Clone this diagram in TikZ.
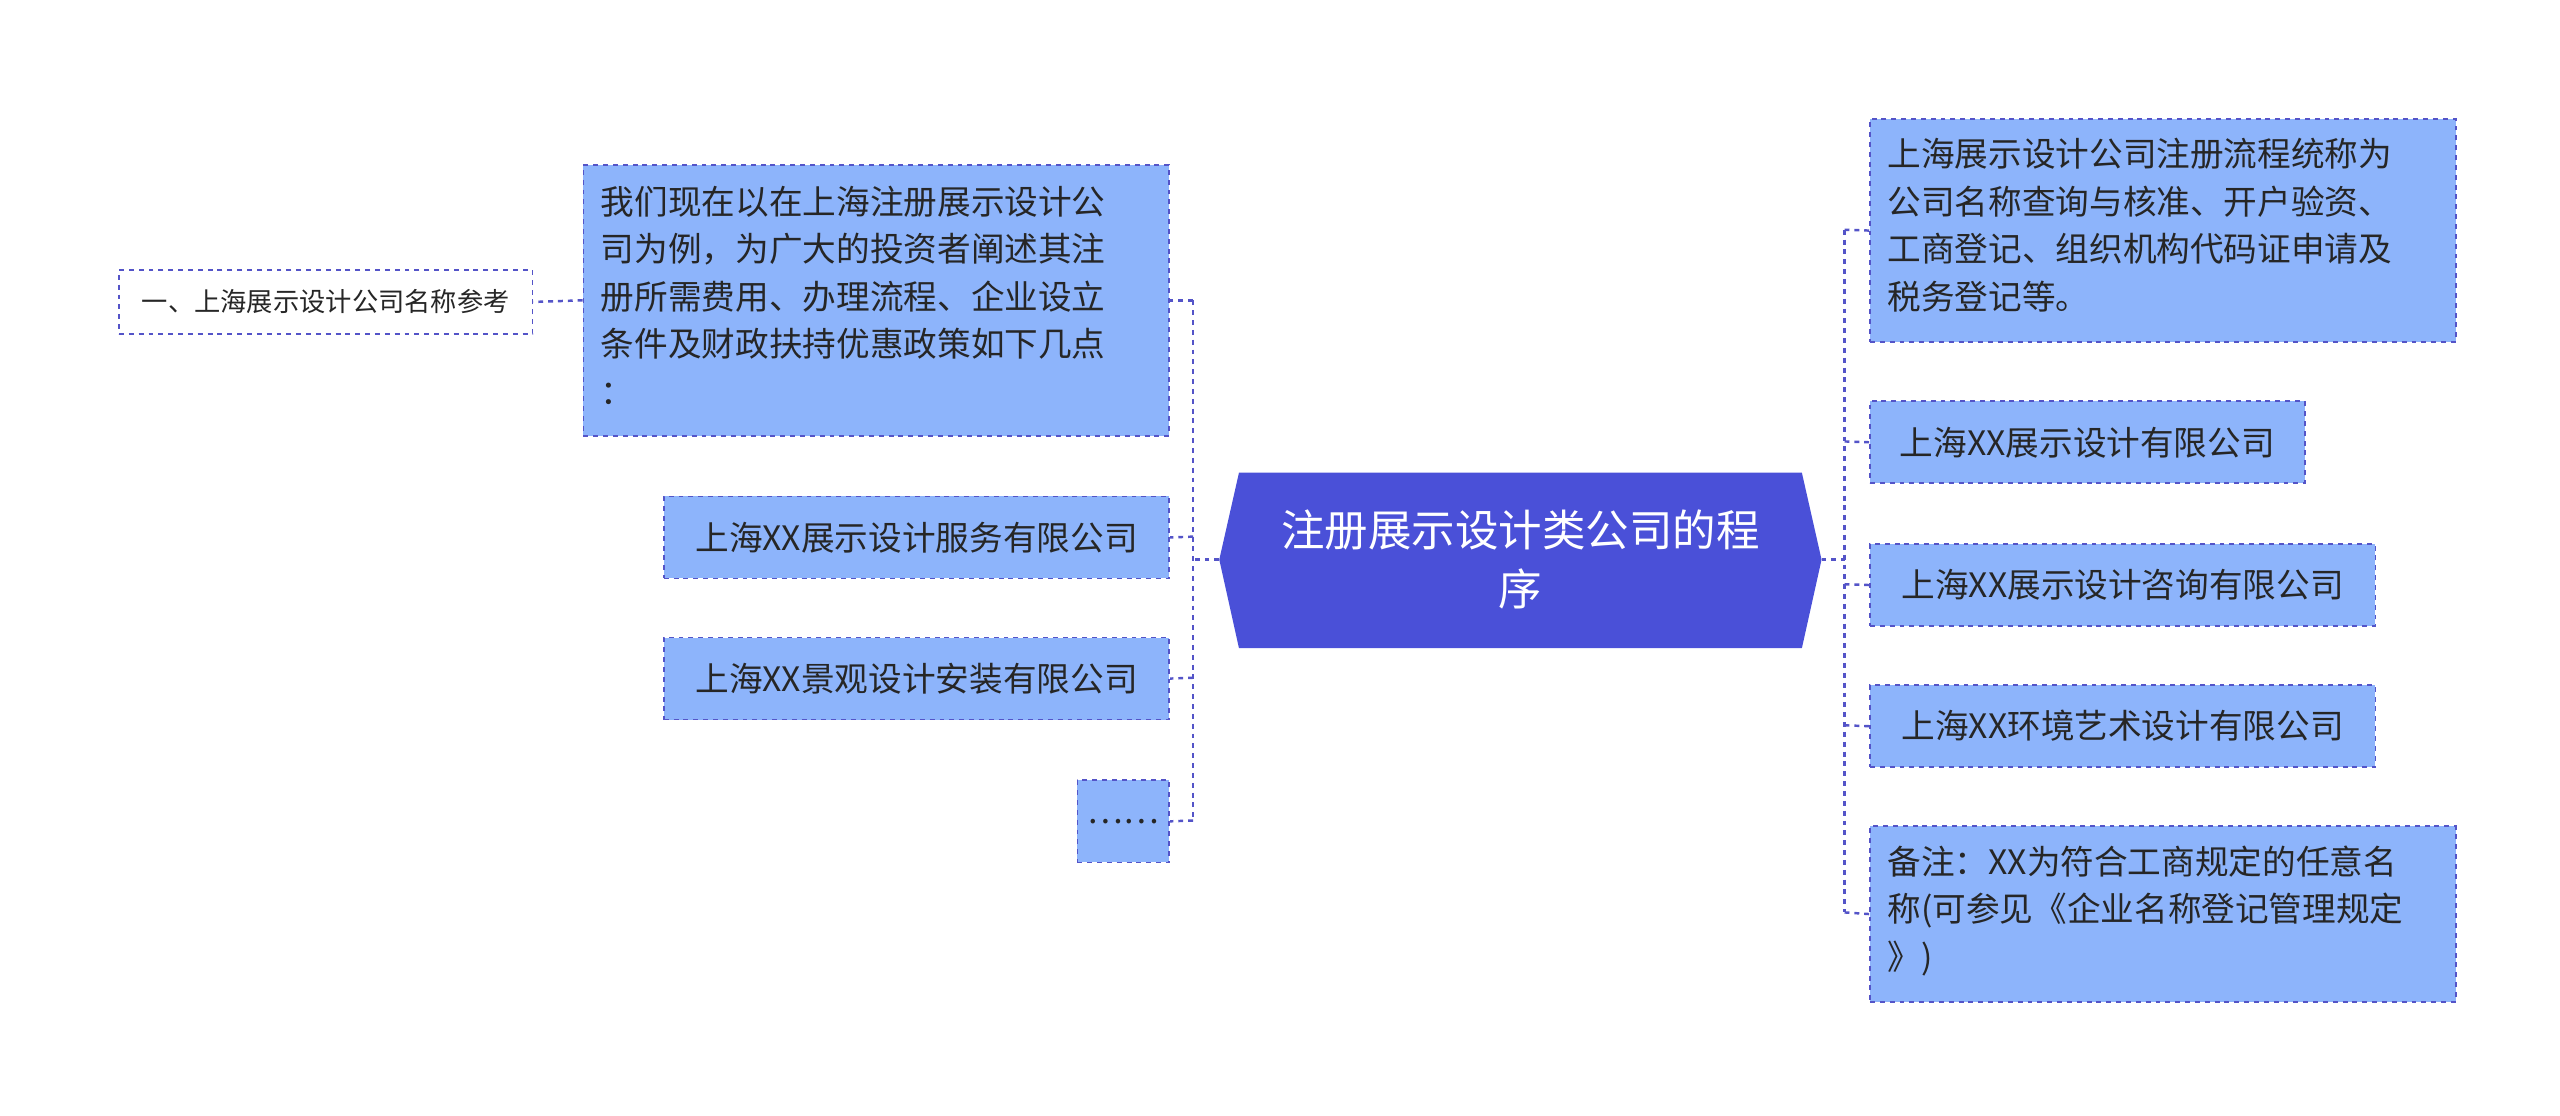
\documentclass[tikz,border=0pt]{standalone}
\usepackage{fontspec}
\newfontfamily\cjk{Noto Sans CJK SC}
\begin{document}
\begin{tikzpicture}[x=1pt,y=-1pt,
  box/.style={draw=myborder,dashed,fill=myfill,line width=1pt,inner sep=0pt,font=\cjk\fontsize{20.5}{29}\selectfont,align=left,anchor=north west,text=black!85},
  txt/.style={anchor=north west,font=\cjk\fontsize{20.5}{29}\selectfont,align=left,text=black!85,inner sep=0pt},
  conn/.style={draw=myborder,dashed,line width=1.5pt}]
\definecolor{myfill}{HTML}{8DB4FB}
\definecolor{myborder}{HTML}{5454C8}
\definecolor{ctr}{HTML}{4A50D8}
\useasboundingbox (0,0) rectangle (1560,680);
% center
\fill[ctr] (743,341)--(755,288)--(1098,288)--(1110,341)--(1098,395)--(755,395)--cycle;
\node[font=\cjk\fontsize{26.5}{36}\selectfont,text=white,align=center] (c) at (926.5,341) {注册展示设计类公司的程\\序};
\coordinate (cl) at (743,341); \coordinate (cr) at (1110,341);
% left boxes
\node[box,minimum width=357,minimum height=165] (l1) at (355,100) {};
\node[txt] at (366,113) {我们现在以在上海注册展示设计公\\司为例，为广大的投资者阐述其注\\册所需费用、办理流程、企业设立\\条件及财政扶持优惠政策如下几点\\：};
\node[box,minimum width=308,minimum height=50,align=center] (l2) at (404,302) {上海XX展示设计服务有限公司};
\node[box,minimum width=308,minimum height=50,align=center] (l3) at (404,388) {上海XX景观设计安装有限公司};
\node[box,minimum width=56,minimum height=50,align=center] (l4) at (656,475) {……};
\node[box,fill=white,minimum width=252,minimum height=39,align=center,font=\cjk\fontsize{16}{20}\selectfont] (l0) at (72,164) {一、上海展示设计公司名称参考};
% right boxes
\node[box,minimum width=357,minimum height=136] (r1) at (1139,72) {};
\node[txt] at (1150,84) {上海展示设计公司注册流程统称为\\公司名称查询与核准、开户验资、\\工商登记、组织机构代码证申请及\\税务登记等。};
\node[box,minimum width=265,minimum height=50,align=center] (r2) at (1139,244) {上海XX展示设计有限公司};
\node[box,minimum width=308,minimum height=50,align=center] (r3) at (1139,331) {上海XX展示设计咨询有限公司};
\node[box,minimum width=308,minimum height=50,align=center] (r4) at (1139,417) {上海XX环境艺术设计有限公司};
\node[box,minimum width=357,minimum height=107] (r5) at (1139,503) {};
\node[txt] at (1150,515) {备注：XX为符合工商规定的任意名\\称(可参见《企业名称登记管理规定\\》)};
% connectors
\draw[conn] (cl) -- (727,341);
\draw[conn] (727,183) -- (727,500);
\draw[conn] (727,183) -- (l1.east);
\draw[conn] (727,327) -- (l2.east);
\draw[conn] (727,413) -- (l3.east);
\draw[conn] (727,500) -- (l4.east);
\draw[conn] (l1.west) -- (l0.east);
\draw[conn] (cr) -- (1124,341);
\draw[conn] (1124,140) -- (1124,556);
\draw[conn] (1124,140) -- (r1.west);
\draw[conn] (1124,269) -- (r2.west);
\draw[conn] (1124,356) -- (r3.west);
\draw[conn] (1124,442) -- (r4.west);
\draw[conn] (1124,556) -- (r5.west);
\end{tikzpicture}
\end{document}
